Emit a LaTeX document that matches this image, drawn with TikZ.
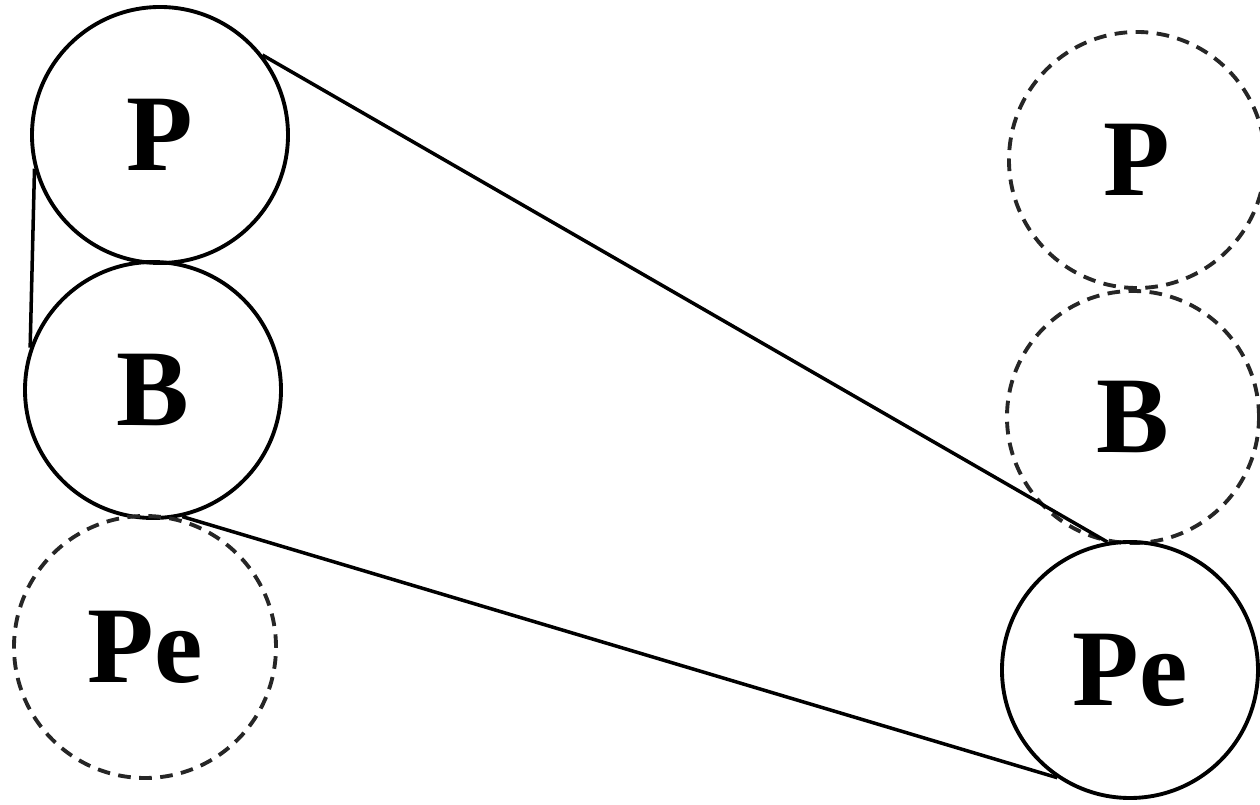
\documentclass[tikz,border=0pt]{standalone}
\usepackage{fontspec}
\setmainfont{Liberation Serif}
\begin{document}
\begin{tikzpicture}[
  ball/.style={circle,draw=black,line width=1.1pt,inner sep=0pt,
    minimum size=2.56cm,font=\fontsize{31}{31}\selectfont\bfseries},
  ghost/.style={ball,draw=black!85,dashed,dash pattern=on 3.6pt off 2.4pt}]
  \useasboundingbox (0,0) rectangle (12.6,8.05);
  % left column
  \node[ball]  (lP)  at (1.60,6.70) {P};
  \node[ball]  (lB)  at (1.53,4.15) {B};
  \node[ghost,minimum size=2.62cm] (lPe) at (1.45,1.58) {Pe};
  % right column
  \node[ghost] (rP)  at (11.37,6.45) {P};
  \node[ghost,minimum size=2.52cm] (rB)  at (11.33,3.88) {B};
  \node[ball]  (rPe) at (11.30,1.35) {Pe};
  % connectors
  \draw[line width=1pt] (lP.38) -- (rPe.100);
  \draw[line width=1pt] (lP.195) -- (lB.161);
  \draw[line width=1pt] (lB.-77) -- (rPe.236);
\end{tikzpicture}
\end{document}
